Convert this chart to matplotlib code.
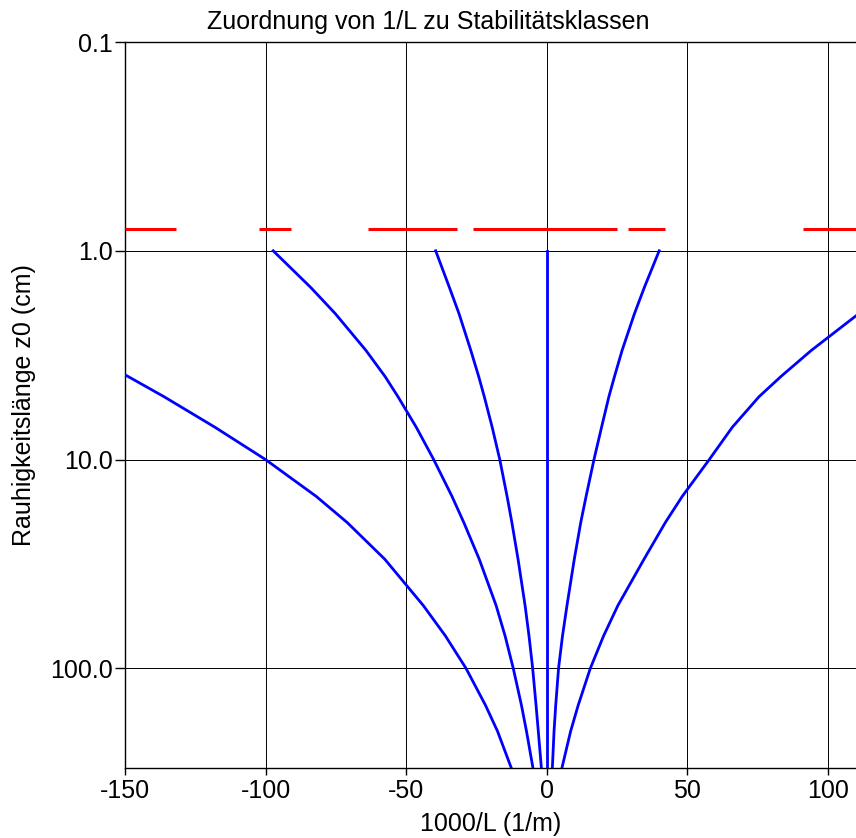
import matplotlib
matplotlib.use("Agg")
import matplotlib.pyplot as plt
from matplotlib.ticker import NullLocator

plt.rcParams['font.family'] = ['Liberation Sans', 'DejaVu Sans']
plt.rcParams['axes.unicode_minus'] = False

"""Rauhigkeitslaenge z0 (cm) and 1000/L (1/m) per Klug/Manier class"""
z0 = [1, 1.5, 2, 3, 4, 5, 7, 10, 15, 20, 30, 50, 70, 100, 150, 200, 300]

klasse_I = [142.9, 124.2, 111.0, 94.1, 83.3, 75.5, 66.0, 57.8, 48.2, 42.2,
            34.6, 25.3, 20.2, 15.5, 11.2, 8.5, 5.4]
klasse_II = [40.0, 34.7, 31.2, 26.8, 24.1, 22.1, 19.5, 16.8, 14.0, 12.1,
             9.8, 7.2, 5.6, 4.2, 3.2, 2.6, 2.0]
klasse_III1 = [0.01] * len(z0)  # L = 99999 m, neutral
klasse_III2 = [-39.5, -34.6, -31.2, -27.0, -24.2, -22.2, -19.4, -16.7, -14.1, -12.4,
               -10.2, -7.7, -6.3, -5.0, -3.8, -3.0, -1.9]
klasse_IV = [-97.3, -83.9, -75.2, -64.3, -57.5, -52.9, -46.4, -40.2, -33.7, -29.5,
             -24.0, -18.0, -14.8, -11.9, -9.0, -7.2, -4.9]
klasse_V = [-242.7, -212.8, -192.8, -166.4, -148.9, -136.1, -118.0, -100.0, -82.0, -71.0,
            -57.6, -43.9, -36.0, -28.7, -21.8, -17.5, -12.6]

# red marker line just above z0 = 1 cm
grenze_z0 = 0.79
grenze_von = [-150, -102.3, -63.4, -26.1, 28.9, 91.0]
grenze_bis = [-131.9, -90.8, -31.8, 25.1, 42.2, 120]

xticks = [-150, -100, -50, 0, 50, 100]
yticks = [0.1, 1, 10, 100]
ytick_labels = ['0.1', '1.0', '10.0', '100.0']

fig = plt.figure(figsize=(8.56, 8.38), dpi=100)
ax = fig.add_axes([125 / 856, 1 - 768 / 838, 1 - 125 / 856, 726 / 838])

ax.set_yscale('log')
ax.set_xlim(-150, 110)
ax.set_ylim(300, 0.1)

ax.hlines([grenze_z0] * len(grenze_von), grenze_von, grenze_bis, colors='#ff0000', lw=2.2, zorder=3)

for kurve in [klasse_V, klasse_IV, klasse_III2, klasse_III1, klasse_II, klasse_I]:
    ax.plot(kurve, z0, color='#0000ff', lw=2.0, zorder=4, solid_joinstyle='round')

ax.set_xticks(xticks)
ax.set_yticks(yticks)
ax.set_yticklabels(ytick_labels)
ax.yaxis.set_minor_locator(NullLocator())
ax.grid(True, color='black', lw=0.7)
ax.set_axisbelow(True)

ax.tick_params(axis='y', direction='out', length=7, width=1, pad=2, labelsize=18)
ax.tick_params(axis='x', direction='out', length=5, width=1, pad=3, labelsize=18)

for s in ['left', 'bottom', 'top']:
    ax.spines[s].set_linewidth(1.0)
ax.spines['right'].set_visible(False)

ax.set_xlabel('1000/L (1/m)', fontsize=18)
ax.xaxis.set_label_coords(0.5, -0.06)
ax.set_ylabel('Rauhigkeitslänge z0 (cm)', fontsize=18)
ax.yaxis.set_label_coords(-0.122, 0.5)

fig.text(0.5, 1 - 29 / 838, 'Zuordnung von 1/L zu Stabilitätsklassen', ha='center', va='baseline', fontsize=18)

fig.savefig('out.png', dpi=100)
